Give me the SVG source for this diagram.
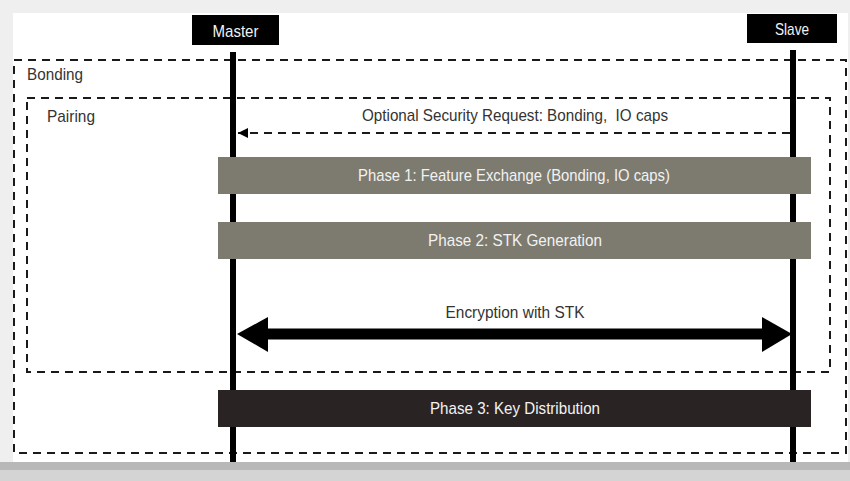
<svg xmlns="http://www.w3.org/2000/svg" width="850" height="481" viewBox="0 0 850 481">
  <style>
    .lbl { font-family: "Liberation Sans", Arial, sans-serif; font-size: 17px; fill: #333333; white-space: pre; }
    .wlbl { font-family: "Liberation Sans", Arial, sans-serif; font-size: 17px; fill: #f2f2f2; white-space: pre; }
    .frame { fill: none; stroke: #1a1a1a; stroke-width: 2; stroke-dasharray: 8 6; }
    .life { stroke: #000000; stroke-width: 6; }
    .actor { fill: #000000; }
    .phase { fill: #7d7b70; }
    .phase3 { fill: #2a2324; }
  </style>
  <defs>
    <marker id="openHead" markerWidth="10" markerHeight="10" refX="10" refY="5" orient="auto" markerUnits="userSpaceOnUse">
      <path d="M0,0 L10,5 L0,10 Z" fill="#000"/>
    </marker>
  </defs>
  <!-- background frame -->
  <rect x="0" y="0" width="850" height="481" fill="#efefef"/>
  <rect x="13" y="13" width="835" height="449" fill="#ffffff"/>
  <rect x="0" y="462" width="850" height="8" fill="#b8b8b8"/>
  <rect x="0" y="470" width="850" height="11" fill="#d4d4d4"/>

  <g id="bonding">
    <rect class="frame" x="14" y="60" width="832" height="393"/>
    <text class="lbl" x="27" y="80" textLength="56" lengthAdjust="spacingAndGlyphs">Bonding</text>
  </g>
  <g id="pairing">
    <rect class="frame" x="27" y="98" width="803" height="274"/>
    <text class="lbl" x="47" y="122" textLength="48" lengthAdjust="spacingAndGlyphs">Pairing</text>
  </g>

  <g id="master">
    <rect class="actor" x="192" y="15" width="87" height="30"/>
    <text class="wlbl" x="235.5" y="37" text-anchor="middle" textLength="46" lengthAdjust="spacingAndGlyphs">Master</text>
    <line class="life" x1="233" y1="52" x2="233" y2="462"/>
  </g>
  <g id="slave">
    <rect class="actor" x="747" y="14" width="90" height="29"/>
    <text class="wlbl" x="792" y="35" text-anchor="middle" textLength="34" lengthAdjust="spacingAndGlyphs">Slave</text>
    <line class="life" x1="793" y1="50" x2="793" y2="462"/>
  </g>

  <g id="connectors">
    <line x1="790" y1="133" x2="238" y2="133" stroke="#1a1a1a" stroke-width="2" stroke-dasharray="8 6" marker-end="url(#openHead)"/>
    <line x1="265" y1="334" x2="766" y2="334" stroke="#000" stroke-width="11"/>
    <path d="M237,334 L268,317 L268,352 Z" fill="#000"/>
    <path d="M792,334 L762,317 L762,352 Z" fill="#000"/>
  </g>
  <text class="lbl" x="515" y="121" text-anchor="middle" textLength="306" lengthAdjust="spacingAndGlyphs">Optional Security Request: Bonding,  IO caps</text>
  <text class="lbl" x="515" y="318" text-anchor="middle" textLength="139" lengthAdjust="spacingAndGlyphs">Encryption with STK</text>

  <g id="phase1">
    <rect class="phase" x="218" y="157" width="593" height="37"/>
    <text class="wlbl" x="514" y="181" text-anchor="middle" textLength="312" lengthAdjust="spacingAndGlyphs">Phase 1: Feature Exchange (Bonding, IO caps)</text>
  </g>
  <g id="phase2">
    <rect class="phase" x="218" y="222" width="593" height="37"/>
    <text class="wlbl" x="515" y="246" text-anchor="middle" textLength="174" lengthAdjust="spacingAndGlyphs">Phase 2: STK Generation</text>
  </g>
  <g id="phase3">
    <rect class="phase3" x="218" y="390" width="593" height="37"/>
    <text class="wlbl" x="515" y="414" text-anchor="middle" textLength="170" lengthAdjust="spacingAndGlyphs">Phase 3: Key Distribution</text>
  </g>
</svg>
